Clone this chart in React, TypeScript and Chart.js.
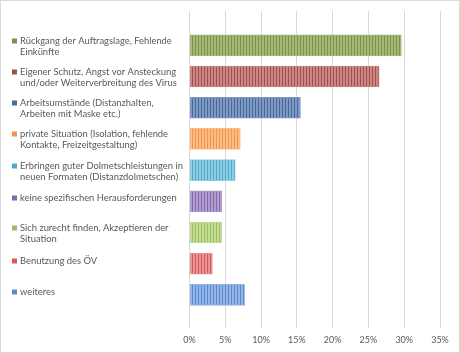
import React, { useEffect, useRef } from "react";
import { Chart, registerables } from "chart.js";

Chart.register(...registerables);

const categories: string[][] = [
  ["Rückgang der Auftragslage, Fehlende", "Einkünfte"],
  ["Eigener Schutz, Angst vor Ansteckung", "und/oder Weiterverbreitung des Virus"],
  ["Arbeitsumstände (Distanzhalten,", "Arbeiten mit Maske etc.)"],
  ["private Situation (Isolation, fehlende", "Kontakte, Freizeitgestaltung)"],
  ["Erbringen guter Dolmetschleistungen in", "neuen Formaten (Distanzdolmetschen)"],
  ["keine spezifischen Herausforderungen"],
  ["Sich zurecht finden, Akzeptieren der", "Situation"],
  ["Benutzung des ÖV"],
  ["weiteres"],
];

const values: number[] = [29.6, 26.5, 15.5, 7.1, 6.4, 4.5, 4.5, 3.2, 7.7];

const darkColors: string[] = [
  "#7c9249", "#a24f4d", "#4a6a9b", "#f3944a", "#4eaac7", "#8469ad", "#9cbf5e", "#d65a5a", "#5a8acf",
];
const lightColors: string[] = [
  "#a5b879", "#c98785", "#7d99c3", "#fbbd88", "#8dcde1", "#b19ccf", "#c3db97", "#e99494", "#94b5e5",
];

const xTicks: number[] = [0, 5, 10, 15, 20, 25, 30, 35];

function makePattern(ctx: CanvasRenderingContext2D, dark: string, light: string) {
  const c = document.createElement("canvas");
  c.width = 3;
  c.height = 4;
  const g = c.getContext("2d")!;
  g.fillStyle = light;
  g.fillRect(0, 0, 3, 4);
  g.fillStyle = dark;
  g.fillRect(0, 0, 1, 4);
  return ctx.createPattern(c, "repeat")!;
}

const FONT = "Lato, 'Open Sans', sans-serif";

const labelPlugin = {
  id: "sideLabels",
  afterDraw(chart: any) {
    const ctx: CanvasRenderingContext2D = chart.ctx;
    const y = chart.scales.y;
    ctx.save();
    ctx.font = `9.4px ${FONT}`;
    ctx.textBaseline = "middle";
    ctx.textAlign = "left";
    categories.forEach((lines, i) => {
      const cy = y.getPixelForValue(i);
      const first = lines.length > 1 ? cy - 4.5 : cy - 3;
      ctx.fillStyle = darkColors[i];
      ctx.fillRect(12, Math.round(first) - 2.5, 5, 5);
      ctx.fillStyle = "#595959";
      lines.forEach((ln, k) => {
        ctx.fillText(ln, 20, first + k * 11);
      });
    });
    ctx.restore();
  },
};

const borderPlugin = {
  id: "outerBorder",
  beforeDraw(chart: any) {
    const ctx: CanvasRenderingContext2D = chart.ctx;
    ctx.save();
    ctx.fillStyle = "#ffffff";
    ctx.fillRect(0, 0, chart.width, chart.height);
    ctx.strokeStyle = "#d9d9d9";
    ctx.lineWidth = 1;
    ctx.strokeRect(0.5, 0.5, chart.width - 1, chart.height - 1);
    ctx.restore();
  },
};

export default function App() {
  const ref = useRef<HTMLCanvasElement>(null);
  useEffect(() => {
    const canvas = ref.current!;
    const ctx = canvas.getContext("2d")!;
    const patterns = values.map((_, i) => makePattern(ctx, darkColors[i], lightColors[i]));
    const chart = new Chart(canvas, {
      type: "bar",
      data: {
        datasets: [
          {
            data: values.map((v, i) => ({ x: v, y: i })),
            backgroundColor: patterns,
            borderColor: lightColors,
            borderWidth: 1,
            barThickness: 21,
          } as any,
        ],
      },
      options: {
        indexAxis: "y",
        animation: false,
        responsive: false,
        maintainAspectRatio: false,
        layout: { padding: { left: 189.5, right: 20, top: 11, bottom: 0 } },
        plugins: { legend: { display: false }, tooltip: { enabled: false } },
        scales: {
          y: {
            type: "linear",
            reverse: true,
            offset: false,
            min: -1.1,
            max: 9.06,
            display: false,
          },
          x: {
            type: "linear",
            min: 0,
            max: 35,
            afterBuildTicks: (s: any) => {
              s.ticks = xTicks.map((v) => ({ value: v }));
            },
            afterFit: (s: any) => {
              s.height = 25;
            },
            border: { display: false },
            grid: { color: "#d9d9d9", lineWidth: 1, drawTicks: false },
            ticks: {
              color: "#595959",
              font: { size: 9, family: FONT },
              padding: 7,
              callback: (v: any) => `${v}%`,
            },
          },
        },
      },
      plugins: [borderPlugin, labelPlugin],
    });
    return () => chart.destroy();
  }, []);
  return (
    <div style={{ position: "absolute", left: 0, top: 0, width: 460, height: 353 }}>
      <canvas ref={ref} width={460} height={353} style={{ width: 460, height: 353 }} />
    </div>
  );
}
